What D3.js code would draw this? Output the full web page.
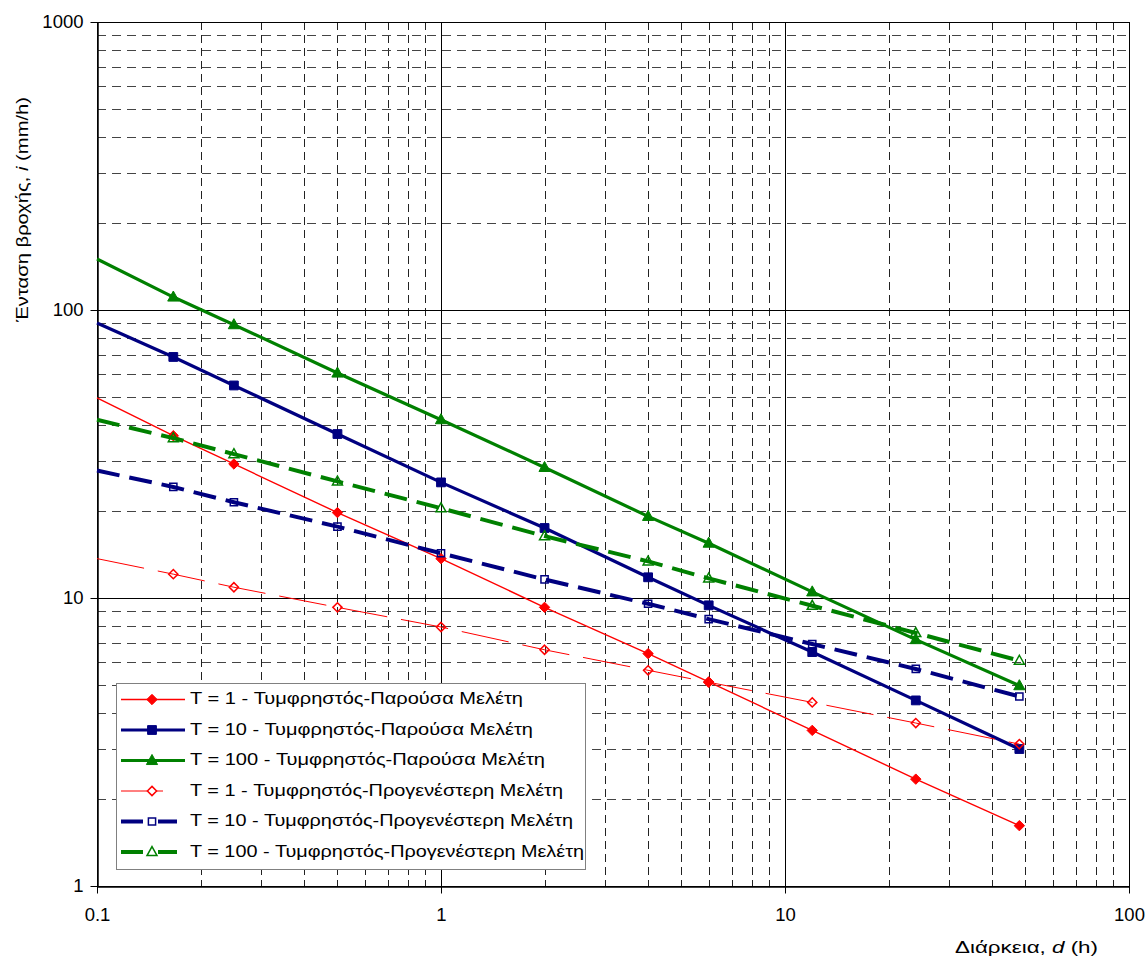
<!DOCTYPE html>
<html>
<head>
<meta charset="utf-8">
<script src="https://cdn.jsdelivr.net/npm/d3@7"></script>
<style>
  body { margin: 0; background: #fff; }
  text { font-family: "Liberation Sans", Arial, sans-serif; fill: #000; }
</style>
</head>
<body>
<svg id="chart" width="1147" height="962"></svg>
<script>
// Rainfall intensity–duration curves, Τυμφρηστός station (log–log)
const durations = [1/6, 0.25, 0.5, 1, 2, 4, 6, 12, 24, 48];   // hours
const startDuration = 0.1;                                      // left edge of the x axis
const seriesNames = [
  "T = 1 - Τυμφρηστός-Παρούσα Μελέτη",
  "T = 10 - Τυμφρηστός-Παρούσα Μελέτη",
  "T = 100 - Τυμφρηστός-Παρούσα Μελέτη",
  "T = 1 - Τυμφρηστός-Προγενέστερη Μελέτη",
  "T = 10 - Τυμφρηστός-Προγενέστερη Μελέτη",
  "T = 100 - Τυμφρηστός-Προγενέστερη Μελέτη"
];
// intensity i (mm/h) at each duration
const t1Present    = [36.6, 29.2, 19.8, 13.7, 9.28, 6.41, 5.11, 3.47, 2.35, 1.62];
const t10Present   = [68.7, 54.7, 37.1, 25.2, 17.5, 11.8, 9.43, 6.49, 4.41, 2.99];
const t100Present  = [110.9, 88.9, 60.4, 41.6, 28.4, 19.2, 15.5, 10.5, 7.17, 4.96];
const t1Previous   = [12.1, 10.9, 9.28, 7.93, 6.61, 5.61, 5.10, 4.34, 3.68, 3.11];
const t10Previous  = [24.3, 21.5, 17.7, 14.3, 11.6, 9.55, 8.45, 6.92, 5.67, 4.55];
const t100Previous = [35.9, 31.6, 25.4, 20.5, 16.4, 13.4, 11.7, 9.40, 7.56, 6.06];
// intensity where each curve enters the plot at d = 0.1 h
const valuesAtStart = [49.5, 90.1, 150.3, 13.7, 27.7, 41.6];

const xTickValues = [0.1, 1, 10, 100];
const xTickLabels = ["0.1", "1", "10", "100"];
const yTickValues = [1, 10, 100, 1000];
const yTickLabels = ["1", "10", "100", "1000"];
const xTitle = ["Διάρκεια, ", "d", " (h)"];
const yTitle = ["Ένταση βροχής, ", "i", " (mm/h)"];

const seriesValues = [t1Present, t10Present, t100Present, t1Previous, t10Previous, t100Previous];

// drawing styles for each series
const styles = [
  { color: "#FF0000", width: 1.4, dash: null,    legendDash: null,            marker: "diamond",  size: 5.2, filled: true },
  { color: "#000080", width: 3.2, dash: null,    legendDash: null,            marker: "square",   size: 4.4, filled: true },
  { color: "#008000", width: 3.2, dash: null,    legendDash: null,            marker: "triangle", size: 5.6, filled: true },
  { color: "#FF0000", width: 1.0, dash: "48,14", legendDash: "26,6,10,52,2", marker: "diamond",  size: 4.6, filled: false },
  { color: "#000080", width: 4.0, dash: "23,10", legendDash: "22,15,19,30",   marker: "square",   size: 3.6, filled: false },
  { color: "#008000", width: 4.0, dash: "23,10", legendDash: "22,15,19,30",   marker: "triangle", size: 5.0, filled: false }
];

const svg = d3.select("#chart");
const plot = { left: 97, right: 1129, top: 22, bottom: 886 };

const x = d3.scaleLog().domain([0.1, 100]).range([plot.left, plot.right]);
const y = d3.scaleLog().domain([1, 1000]).range([plot.bottom, plot.top]);

const isMajor = v => Math.abs(Math.log10(v) - Math.round(Math.log10(v))) < 1e-9;

// gridlines: solid at decades, dashed in between
const grid = svg.append("g");
x.ticks().forEach(v => {
  const px = Math.round(x(v)) + 0.5;
  grid.append("line")
    .attr("x1", px).attr("x2", px).attr("y1", plot.top).attr("y2", plot.bottom)
    .attr("stroke", isMajor(v) ? "#000" : "#222")
    .attr("stroke-width", 1)
    .attr("stroke-dasharray", isMajor(v) ? null : "8,5");
});
y.ticks().forEach(v => {
  const py = Math.round(y(v)) + 0.5;
  grid.append("line")
    .attr("x1", plot.left).attr("x2", plot.right).attr("y1", py).attr("y2", py)
    .attr("stroke", isMajor(v) ? "#000" : "#444")
    .attr("stroke-width", 1)
    .attr("stroke-dasharray", isMajor(v) ? null : "9,6");
});

// axes
const xAxis = d3.axisBottom(x).tickValues(xTickValues)
  .tickFormat((d, i) => xTickLabels[i]).tickSizeInner(7).tickSizeOuter(0).tickPadding(14);
const yAxis = d3.axisLeft(y).tickValues(yTickValues)
  .tickFormat((d, i) => yTickLabels[i]).tickSizeInner(7).tickSizeOuter(0).tickPadding(7);

const gx = svg.append("g").attr("transform", `translate(0,${plot.bottom + 0.5})`).call(xAxis);
const gy = svg.append("g").attr("transform", `translate(${plot.left + 0.5},0)`).call(yAxis);
[gx, gy].forEach(g => {
  g.select(".domain").attr("stroke", "#000").attr("stroke-width", 1.5);
  g.selectAll(".tick line").attr("stroke", "#000");
  g.selectAll(".tick text").attr("font-size", 18.5).attr("font-family", "Liberation Sans, Arial, sans-serif").attr("fill", "#000");
});
gx.selectAll(".tick line").attr("y1", -2);

// axis titles (type is set a little wide, fitted to a fixed run length)
const xt = svg.append("text").attr("x", 955).attr("y", 953)
  .attr("font-size", 16.5).attr("textLength", 143).attr("lengthAdjust", "spacingAndGlyphs");
xTitle.forEach((s, i) => xt.append("tspan").text(s).attr("font-style", i === 1 ? "italic" : null));

const yt = svg.append("text").attr("transform", "translate(28,322) rotate(-90)")
  .attr("font-size", 17).attr("textLength", 225).attr("lengthAdjust", "spacingAndGlyphs");
yTitle.forEach((s, i) => yt.append("tspan").text(s).attr("font-style", i === 1 ? "italic" : null));

// marker shapes
function markerPath(type, r) {
  if (type === "diamond") return `M0,${-r}L${r},0L0,${r}L${-r},0Z`;
  if (type === "square") return `M${-r},${-r}H${r}V${r}H${-r}Z`;
  const h = r * 1.8;
  return `M0,${-h * 0.6}L${r},${h * 0.4}L${-r},${h * 0.4}Z`;
}

// series
const line = d3.line().x(d => x(d[0])).y(d => y(d[1]));
seriesValues.forEach((vals, si) => {
  const st = styles[si];
  const pts = [[startDuration, valuesAtStart[si]]].concat(durations.map((d, i) => [d, vals[i]]));
  const g = svg.append("g");
  g.append("path").attr("d", line(pts))
    .attr("fill", "none").attr("stroke", st.color).attr("stroke-width", st.width)
    .attr("stroke-dasharray", st.dash).attr("stroke-linejoin", "round");
  g.selectAll("path.mk").data(durations.map((d, i) => [d, vals[i]])).join("path")
    .attr("class", "mk")
    .attr("transform", d => `translate(${x(d[0])},${y(d[1])})`)
    .attr("d", markerPath(st.marker, st.size))
    .attr("fill", st.filled ? st.color : "none")
    .attr("stroke", st.color).attr("stroke-width", st.filled ? 1 : 1.5);
});

// legend
const legend = {
  x: 116, y: 683, w: 469, h: 186, rowStart: 699.5, rowStep: 30.5, textX: 190,
  textWidths: [333, 343, 355, 373, 383, 394]
};
const lg = svg.append("g");
lg.append("rect").attr("x", legend.x + 0.5).attr("y", legend.y + 0.5)
  .attr("width", legend.w).attr("height", legend.h)
  .attr("fill", "#fff").attr("stroke", "#808080").attr("stroke-width", 1);
seriesNames.forEach((name, i) => {
  const st = styles[i];
  const cy = legend.rowStart + i * legend.rowStep;
  lg.append("line").attr("x1", 121).attr("x2", 185).attr("y1", cy).attr("y2", cy)
    .attr("stroke", st.color).attr("stroke-width", st.width)
    .attr("stroke-dasharray", st.legendDash);
  lg.append("path").attr("transform", `translate(152,${cy})`)
    .attr("d", markerPath(st.marker, st.size))
    .attr("fill", st.filled ? st.color : "#fff")
    .attr("stroke", st.color).attr("stroke-width", st.filled ? 1 : 1.5);
  lg.append("text").attr("x", legend.textX).attr("y", cy + 4.5)
    .attr("font-size", 16.5)
    .attr("textLength", legend.textWidths[i]).attr("lengthAdjust", "spacingAndGlyphs")
    .text(name);
});
</script>
</body>
</html>
